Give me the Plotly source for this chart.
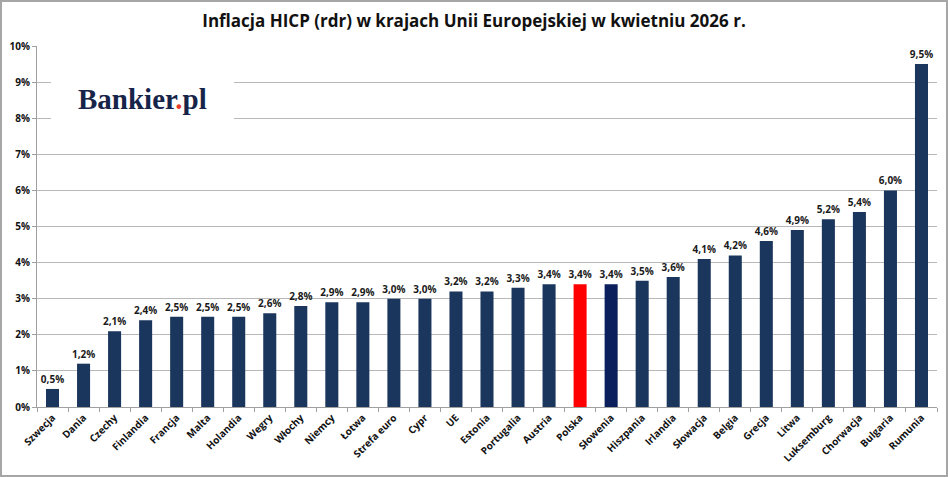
import plotly.graph_objects as go

countries = ["Szwecja", "Dania", "Czechy", "Finlandia", "Francja", "Malta", "Holandia", "Wegry",
             "Włochy", "Niemcy", "Łotwa", "Strefa euro", "Cypr", "UE", "Estonia", "Portugalia",
             "Austria", "Polska", "Słowenia", "Hiszpania", "Irlandia", "Słowacja", "Belgia",
             "Grecja", "Litwa", "Luksemburg", "Chorwacja", "Bulgaria", "Rumunia"]
values = [0.5, 1.2, 2.1, 2.4, 2.5, 2.5, 2.5, 2.6, 2.8, 2.9, 2.9, 3.0, 3.0, 3.2, 3.2, 3.3,
          3.4, 3.4, 3.4, 3.5, 3.6, 4.1, 4.2, 4.6, 4.9, 5.2, 5.4, 6.0, 9.5]
y_ticks = list(range(0, 11))
y_tick_labels = [f"{t}%" for t in y_ticks]

base_color = "#1B365D"
colors = []
for c in countries:
    if c == "Polska":
        colors.append("#FF0000")
    elif c == "Słowenia":
        colors.append("#0A1F5C")
    else:
        colors.append(base_color)

labels = [f"{v:.1f}%".replace(".", ",") for v in values]

W, H = 948, 477
ML, MR, MT, MB = 37, 11, 46, 70
PW, PH = W - ML - MR, H - MT - MB

def px_x(p):
    return (p - ML) / PW

def px_y(p):
    return (H - MB - p) / PH

fig = go.Figure(go.Bar(
    x=countries, y=values, marker=dict(color=colors, line=dict(width=0)),
    text=labels, textposition="outside", cliponaxis=False,
    textfont=dict(family="Open Sans", size=10, color="#1a1a1a", weight="bold"),
))

fig.update_layout(
    width=W, height=H,
    margin=dict(l=ML, r=MR, t=MT, b=MB),
    paper_bgcolor="white", plot_bgcolor="white",
    bargap=0.58,
    showlegend=False,
    uniformtext=dict(minsize=10, mode="show"),
    title=dict(text="<b>Inflacja HICP (rdr) w krajach Unii Europejskiej w kwietniu 2026 r.</b>",
               x=0.5, xanchor="center", y=1 - 21 / H, yanchor="middle",
               font=dict(family="Open Sans", size=17, color="#111111")),
    xaxis=dict(tickangle=-45, automargin=False,
               tickfont=dict(family="Open Sans", size=10, color="#111111", weight="bold"),
               showline=True, linecolor="#A0A0A0", linewidth=1,
               ticks="outside", ticklen=4, tickcolor="#A0A0A0", tickson="boundaries"),
    yaxis=dict(range=[0, 10], tickvals=y_ticks, ticktext=y_tick_labels, automargin=False,
               tickfont=dict(family="Open Sans", size=10, color="#111111", weight="bold"),
               showgrid=True, gridcolor="#B8B8B8", gridwidth=1,
               showline=True, linecolor="#A0A0A0", linewidth=1,
               ticks="outside", ticklen=4, tickcolor="#A0A0A0", zeroline=False),
    shapes=[
        dict(type="rect", xref="paper", yref="paper", x0=px_x(51), x1=px_x(234),
             y0=px_y(126), y1=px_y(74), line=dict(width=0), fillcolor="white", layer="above"),
        dict(type="rect", xref="paper", yref="paper", x0=px_x(1), x1=px_x(W - 1),
             y0=px_y(H - 1), y1=px_y(1),
             line=dict(color="#A6A6A6", width=2), fillcolor="rgba(0,0,0,0)", layer="above"),
    ],
    annotations=[
        dict(text="Bankier<span style='color:#E8402A'>.</span>pl", xref="paper", yref="paper",
             x=px_x(142), y=px_y(99), xanchor="center", yanchor="middle", showarrow=False,
             font=dict(family="Liberation Serif", size=29, color="#17244A", weight="bold")),
    ],
)

fig.write_html("out.html", config={"displayModeBar": False},
               post_script="document.body.style.margin='0';document.body.style.overflow='hidden';")
